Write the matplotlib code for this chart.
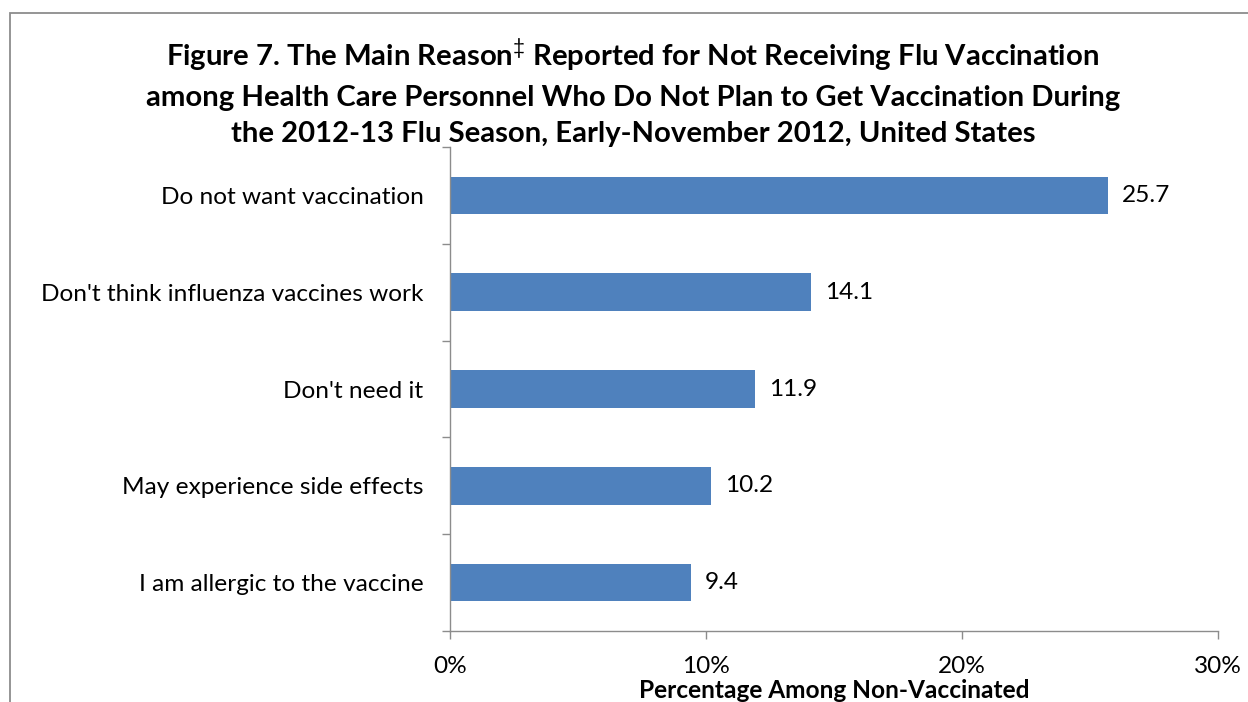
import matplotlib
matplotlib.use("Agg")
import matplotlib.pyplot as plt
from matplotlib.patches import Rectangle
from matplotlib.ticker import FixedLocator, FuncFormatter

categories = ["Do not want vaccination", "Don't think influenza vaccines work",
              "Don't need it", "May experience side effects", "I am allergic to the vaccine"]
values = [25.7, 14.1, 11.9, 10.2, 9.4]
xticks = [0, 10, 20, 30]
title = ("Figure 7. The Main Reason$^{\\ddag}$ Reported for Not Receiving Flu Vaccination\n"
         "among Health Care Personnel Who Do Not Plan to Get Vaccination During\n"
         "the 2012-13 Flu Season, Early-November 2012, United States")
xlabel = "Percentage Among Non-Vaccinated"

W, H = 1248, 702
plt.rcParams['font.family'] = ['Lato', 'DejaVu Sans']
plt.rcParams['mathtext.fontset'] = 'custom'
plt.rcParams['mathtext.rm'] = 'Lato'
plt.rcParams['mathtext.bf'] = 'Lato:bold'

fig = plt.figure(figsize=(W/100, H/100), dpi=100)

def fx(px): return px / W
def fy(py): return 1 - py / H

# outer border
fig.patches.append(Rectangle((fx(9.5), fy(760)), fx(1300) - fx(9.5), fy(12.5) - fy(760),
                             transform=fig.transFigure, fill=False, edgecolor='#8c8c8c', lw=1.3))

ax = fig.add_axes([fx(450), fy(631), fx(1218) - fx(450), fy(147) - fy(631)])
n = len(categories)
pos = list(range(n))
ax.barh(pos, values, height=0.39, color='#4F81BD', zorder=2)
ax.set_ylim(n - 0.5, -0.5)
ax.set_xlim(0, 30)

fs = 17.6
for p, v in zip(pos, values):
    ax.text(v + 0.55, p, f"{v:.1f}", va='center', ha='left', fontsize=fs, color='black')

ax.yaxis.set_major_locator(FixedLocator([i - 0.5 for i in range(n + 1)]))
ax.yaxis.set_major_formatter(FuncFormatter(lambda v, p: ""))
ax.yaxis.set_minor_locator(FixedLocator(pos))
ax.set_yticklabels(categories, minor=True)
ax.tick_params(axis='y', which='major', length=6, width=1, color='#8c8c8c', direction='out')
ax.tick_params(axis='y', which='minor', length=0, pad=19, labelsize=fs)

ax.set_xticks(xticks)
ax.set_xticklabels([f"{t}%" for t in xticks])
ax.tick_params(axis='x', length=6, width=1, color='#8c8c8c', direction='out', pad=12, labelsize=fs)

for s in ['top', 'right']:
    ax.spines[s].set_visible(False)
for s in ['left', 'bottom']:
    ax.spines[s].set_color('#8c8c8c')
    ax.spines[s].set_linewidth(1)

ax.set_xlabel(xlabel, fontsize=fs, fontweight='bold', labelpad=1.5)

fig.text(fx(633), fy(92), title, ha='center', va='center', fontsize=21.1,
         fontweight='bold', linespacing=1.5)

fig.savefig("out.png", dpi=100)
